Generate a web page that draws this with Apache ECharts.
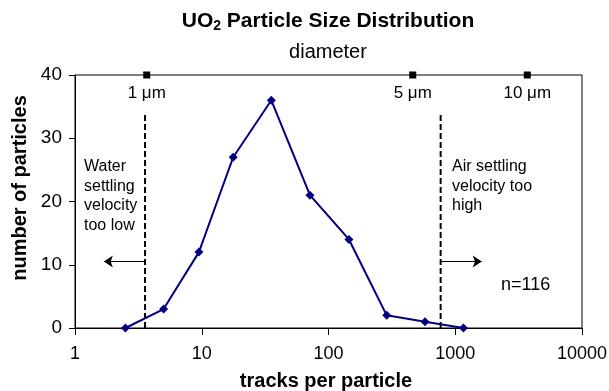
<!DOCTYPE html>
<html>
<head>
<meta charset="utf-8">
<script src="https://cdn.jsdelivr.net/npm/echarts@6/dist/echarts.min.js"></script>
<style>
  html, body { margin: 0; padding: 0; background: #fff; }
  #main { width: 609px; height: 391px; }
</style>
</head>
<body>
<div id="main"></div>
<script>
// tracks per particle (x, log scale) and number of particles (y)
const tracks = [2.5, 5, 9.5, 17.7, 35.4, 71.4, 145, 288, 577, 1160];
const counts = [0, 3, 12, 27, 36, 21, 14, 2, 1, 0];

// settling-velocity cutoffs (dashed lines), in tracks per particle
const cutoffTracks = [3.57, 767];
const cutoffTop = 34;

// arrows pointing away from the cutoffs
const arrowY = 10.5;
const arrowEnds = [1.69, 1617];

// diameter markers on the top edge
const diameterTracks = [3.68, 462, 3700];
const diameterLabels = ["1 \u03bcm", "5 \u03bcm", "10 \u03bcm"];

const xTicks = [1, 10, 100, 1000, 10000];
const yTicks = [0, 10, 20, 30, 40];

const FONT = "Liberation Sans, Arial, sans-serif";

const chart = echarts.init(document.getElementById("main"), null, { renderer: "canvas" });

const option = {
  animation: false,
  backgroundColor: "#fff",
  textStyle: { fontFamily: FONT, color: "#000" },
  grid: {
    left: 75, right: 27, top: 75, bottom: 63,
    outerBoundsMode: "none",
    containLabel: false,
    show: true, borderColor: "#000", borderWidth: 1,
  },
  xAxis: {
    type: "log",
    logBase: 10,
    min: xTicks[0],
    max: xTicks[xTicks.length - 1],
    axisLine: { lineStyle: { color: "#000", width: 1 } },
    axisTick: { show: true, length: 7, lineStyle: { color: "#000" } },
    minorTick: { show: false },
    splitLine: { show: false },
    axisLabel: {
      fontSize: 18, color: "#000", margin: 17, fontFamily: FONT,
      formatter: (v) => String(Math.round(v)),
    },
  },
  yAxis: {
    type: "value",
    min: yTicks[0],
    max: yTicks[yTicks.length - 1],
    interval: 10,
    axisLine: { show: true, lineStyle: { color: "#000", width: 1 } },
    axisTick: { show: true, length: 6, lineStyle: { color: "#000" } },
    splitLine: { show: false },
    axisLabel: { fontSize: 19, color: "#000", margin: 13, fontFamily: FONT },
  },
  graphic: [
    {
      type: "text",
      style: {
        x: 328, y: 21,
        text: "{a|UO}{s|2}{a| Particle Size Distribution}",
        align: "center", verticalAlign: "middle",
        rich: {
          a: { fontSize: 21, fontWeight: "bold", fontFamily: FONT, fill: "#000" },
          s: { fontSize: 14, fontWeight: "bold", fontFamily: FONT, fill: "#000", padding: [10, 0, 0, 0] },
        },
      },
    },
    {
      type: "text",
      style: { x: 328, y: 52, text: "diameter", align: "center", verticalAlign: "middle", fontSize: 20, fontFamily: FONT, fill: "#000" },
    },
    {
      type: "text",
      rotation: Math.PI / 2,
      x: 20, y: 188,
      style: { x: 0, y: 0, text: "number of particles", align: "center", verticalAlign: "middle", fontSize: 20, fontWeight: "bold", fontFamily: FONT, fill: "#000" },
    },
    {
      type: "text",
      style: { x: 326, y: 381, text: "tracks per particle", align: "center", verticalAlign: "middle", fontSize: 20, fontWeight: "bold", fontFamily: FONT, fill: "#000" },
    },
    {
      type: "text",
      style: { x: 84, y: 157, text: "Water\nsettling\nvelocity\ntoo low", lineHeight: 19.5, fontSize: 16, fontFamily: FONT, fill: "#000", verticalAlign: "top" },
    },
    {
      type: "text",
      style: { x: 452, y: 157, text: "Air settling\nvelocity too\nhigh", lineHeight: 19.5, fontSize: 16, fontFamily: FONT, fill: "#000", verticalAlign: "top" },
    },
    {
      type: "text",
      style: { x: 501, y: 285, text: "n=116", fontSize: 18, fontFamily: FONT, fill: "#000", verticalAlign: "middle" },
    },
  ],
  series: [
    {
      name: "particles",
      type: "line",
      data: tracks.map((t, i) => [t, counts[i]]),
      symbol: "diamond",
      symbolSize: 9,
      lineStyle: { color: "#000080", width: 2 },
      itemStyle: { color: "#000080" },
      clip: false,
      z: 5,
      markLine: {
        silent: true,
        symbol: ["none", "arrow"],
        symbolSize: 9,
        label: { show: false },
        lineStyle: { color: "#000", width: 1, type: "solid" },
        itemStyle: { color: "#000" },
        data: cutoffTracks.map((c, i) => [
          { coord: [c, arrowY] },
          { coord: [arrowEnds[i], arrowY] },
        ]),
      },
    },
    ...cutoffTracks.map((c) => ({
      type: "line",
      data: [[c, 0], [c, cutoffTop]],
      symbol: "none",
      silent: true,
      lineStyle: { color: "#000", width: 2, type: [6, 3] },
      z: 3,
    })),
    {
      type: "scatter",
      data: diameterTracks.map((t, i) => ({ value: [t, yTicks[yTicks.length - 1]], name: diameterLabels[i] })),
      symbol: "rect",
      symbolSize: 7,
      clip: false,
      itemStyle: { color: "#000", opacity: 1 },
      label: {
        show: true,
        position: "bottom",
        distance: 6,
        formatter: (p) => p.name,
        fontSize: 17,
        color: "#000",
        fontFamily: FONT,
      },
      z: 6,
    },
  ],
};

chart.setOption(option);
</script>
</body>
</html>
